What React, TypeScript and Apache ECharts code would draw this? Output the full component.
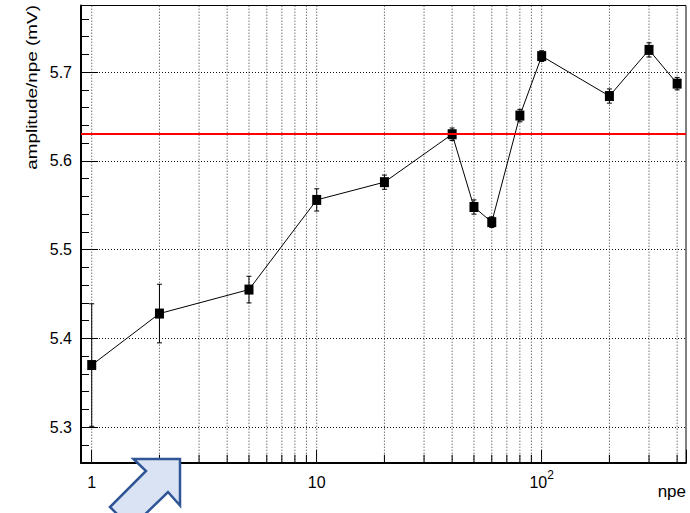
import React, { useEffect, useRef } from 'react';
import * as echarts from 'echarts';

// ---- data ----
const npe = [1, 2, 5, 10, 20, 40, 50, 60, 80, 100, 200, 300, 400];
const amplitude = [5.370, 5.428, 5.455, 5.556, 5.576, 5.630, 5.548, 5.531, 5.651, 5.718, 5.673, 5.725, 5.687];
const amplitudeErr = [0.069, 0.033, 0.015, 0.0125, 0.008, 0.007, 0.008, 0.006, 0.007, 0.006, 0.008, 0.008, 0.007];
const referenceLevel = 5.628;
const xGridValues = [1, 2, 3, 4, 5, 6, 7, 8, 9, 10, 20, 30, 40, 50, 60, 70, 80, 90, 100, 200, 300, 400];
const xMajorValues = [1, 10, 100];
const xTickLabels = ['{b|1}', '{b|10}', '{b|10}{s|2}'];

const X_MIN = 0.896;
const X_MAX = 438;
const Y_MIN = 5.26;
const Y_MAX = 5.775;

const FONT = '"Liberation Sans", Arial, Helvetica, sans-serif';

export default function App() {
  const ref = useRef<HTMLDivElement>(null);

  useEffect(() => {
    if (!ref.current) return;
    const chart = echarts.init(ref.current, undefined, { renderer: 'svg' });

    const option: any = {
      animation: false,
      backgroundColor: '#ffffff',
      textStyle: { fontFamily: FONT, color: '#000' },
      grid: {
        left: 81,
        right: 4,
        top: 5.5,
        bottom: 50.3,
        show: true,
        borderColor: '#000',
        borderWidth: 1,
        backgroundColor: 'transparent',
      },
      xAxis: {
        type: 'log',
        logBase: 10,
        min: X_MIN,
        max: X_MAX,
        axisLine: { show: true, onZero: false, lineStyle: { color: '#000', width: 2 } },
        axisTick: { show: true, inside: true, length: 13, lineStyle: { color: '#000', width: 1 } },
        splitLine: { show: false },
        minorTick: { show: false },
        axisLabel: {
          show: true,
          margin: 6,
          color: '#000',
          fontFamily: FONT,
          formatter: (v: number) => {
            const e = Math.log10(v);
            if (Math.abs(e - Math.round(e)) > 1e-6) return '';
            const k = Math.round(e);
            return xTickLabels[k] ?? '';
          },
          rich: {
            b: { fontSize: 16, lineHeight: 22, verticalAlign: 'bottom', color: '#000', fontFamily: FONT },
            s: { fontSize: 12, lineHeight: 12, verticalAlign: 'top', color: '#000', fontFamily: FONT },
          },
        },
      },
      yAxis: [
        {
          type: 'value',
          position: 'left',
          offset: 0,
          min: Y_MIN,
          max: Y_MAX,
          axisLine: { show: true, onZero: false, lineStyle: { color: '#000', width: 2 } },
          axisTick: { show: true, inside: true, length: 17, lineStyle: { color: '#000', width: 1 } },
          axisLabel: {
            show: true,
            margin: 9,
            color: '#000',
            fontSize: 16,
            fontFamily: FONT,
            showMinLabel: false,
            showMaxLabel: false,
            formatter: (v: number) => v.toFixed(1),
          },
          splitLine: {
            show: true,
            showMinLine: false,
            showMaxLine: false,
            lineStyle: { color: '#111', width: 1, type: [1, 2] },
          },
        },
        {
          type: 'value',
          position: 'left',
          offset: 0,
          min: Y_MIN,
          max: Y_MAX,
          interval: 0.02,
          axisLine: { show: false },
          axisTick: { show: true, inside: true, length: 8, lineStyle: { color: '#000', width: 1 } },
          axisLabel: { show: false },
          splitLine: { show: false },
        },
      ],
      graphic: [
        {
          type: 'text',
          x: 32,
          y: 5,
          rotation: Math.PI / 2,
          scaleX: 1.26,
          style: {
            text: 'amplitude/npe (mV)',
            font: `15px ${FONT}`,
            fill: '#000000',
            align: 'right',
            textAlign: 'right',
            verticalAlign: 'middle',
            textVerticalAlign: 'middle',
          },
        },
        {
          type: 'text',
          x: 686,
          y: 491,
          style: {
            text: 'npe',
            font: `17px ${FONT}`,
            fill: '#000000',
            align: 'right',
            textAlign: 'right',
            verticalAlign: 'middle',
            textVerticalAlign: 'middle',
          },
        },
        {
          type: 'polygon',
          z: 100,
          shape: {
            points: [
              [180, 459],
              [133.5, 459],
              [146, 471],
              [110, 507],
              [131, 528],
              [168, 492],
              [180, 505.5],
            ],
          },
          style: { fill: '#DAE3F3', stroke: '#2F5597', lineWidth: 2.5, lineJoin: 'miter' },
        },
      ],
      series: [
        {
          type: 'custom',
          name: 'grid',
          coordinateSystem: 'cartesian2d',
          xAxisIndex: 0,
          yAxisIndex: 0,
          silent: true,
          z: 1,
          data: xGridValues.map((v) => [v, Y_MIN]),
          encode: { x: 0, y: 1 },
          renderItem: (_params: any, api: any) => {
            const v = api.value(0);
            const b = api.coord([v, Y_MIN]);
            const t = api.coord([v, Y_MAX]);
            const children: any[] = [
              {
                type: 'line',
                shape: { x1: b[0], y1: b[1], x2: t[0], y2: t[1] },
                style: { stroke: '#333', lineWidth: 1, lineDash: [1, 2] },
              },
            ];
            if (!xMajorValues.includes(v)) {
              children.push({
                type: 'line',
                shape: { x1: b[0], y1: b[1], x2: b[0], y2: b[1] - 8 },
                style: { stroke: '#000', lineWidth: 1 },
              });
            }
            return { type: 'group', children };
          },
        },
        {
          type: 'line',
          name: 'reference',
          xAxisIndex: 0,
          yAxisIndex: 0,
          data: [],
          z: 2,
          silent: true,
          markLine: {
            silent: true,
            symbol: ['none', 'none'],
            label: { show: false },
            lineStyle: { color: '#ff0000', width: 2, type: 'solid' },
            emphasis: { disabled: true },
            data: [{ yAxis: referenceLevel }],
          },
        },
        {
          type: 'custom',
          name: 'errors',
          coordinateSystem: 'cartesian2d',
          xAxisIndex: 0,
          yAxisIndex: 0,
          silent: true,
          z: 3,
          data: npe.map((x, i) => [x, amplitude[i], amplitudeErr[i]]),
          encode: { x: 0, y: 1 },
          renderItem: (_params: any, api: any) => {
            const x = api.value(0);
            const y = api.value(1);
            const e = api.value(2);
            const hi = api.coord([x, y + e]);
            const lo = api.coord([x, y - e]);
            const w = 2.5;
            const st = { stroke: '#000', lineWidth: 1 };
            return {
              type: 'group',
              children: [
                { type: 'line', shape: { x1: hi[0], y1: hi[1], x2: lo[0], y2: lo[1] }, style: st },
                { type: 'line', shape: { x1: hi[0] - w, y1: hi[1], x2: hi[0] + w, y2: hi[1] }, style: st },
                { type: 'line', shape: { x1: lo[0] - w, y1: lo[1], x2: lo[0] + w, y2: lo[1] }, style: st },
              ],
            };
          },
        },
        {
          type: 'line',
          name: 'amplitude/npe',
          xAxisIndex: 0,
          yAxisIndex: 0,
          z: 4,
          data: npe.map((x, i) => [x, amplitude[i]]),
          symbol: 'rect',
          symbolSize: [9, 10],
          showSymbol: true,
          showAllSymbol: true,
          itemStyle: { color: '#000' },
          lineStyle: { color: '#000', width: 1 },
          emphasis: { disabled: true },
        },
      ],
    };

    chart.setOption(option);
    return () => {
      chart.dispose();
    };
  }, []);

  return (
    <div
      ref={ref}
      style={{ position: 'absolute', left: 0, top: 0, width: 690, height: 513, background: '#fff' }}
    />
  );
}
